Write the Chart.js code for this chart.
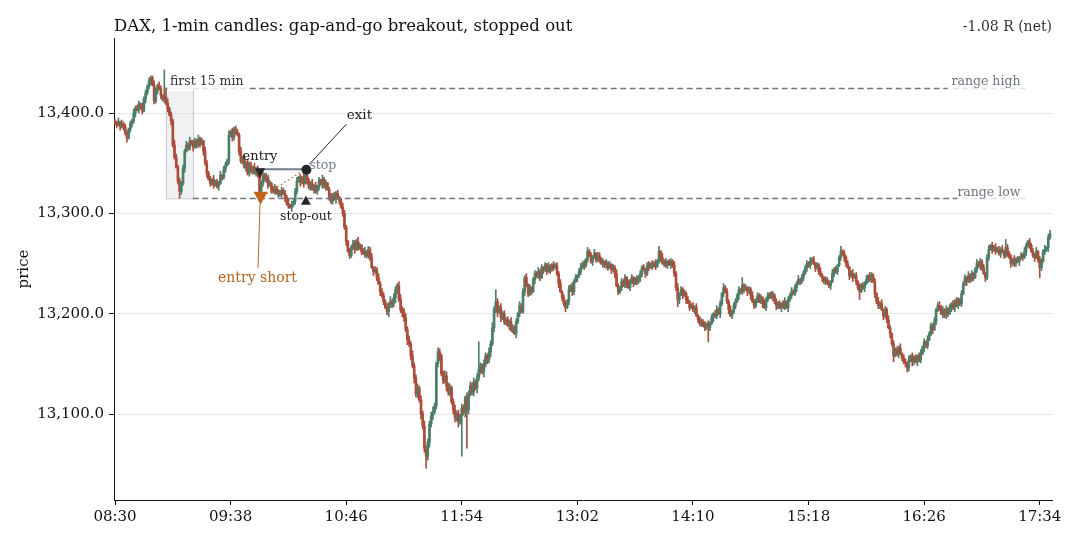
<!DOCTYPE html>
<html>
<head>
<meta charset="utf-8">
<script src="https://cdn.jsdelivr.net/npm/chart.js@4.4.1/dist/chart.umd.min.js"></script>
<style>
html,body{margin:0;padding:0;background:#fff;}
#wrap{width:1080px;height:540px;position:relative;}
</style>
</head>
<body>
<div id="wrap"><canvas id="c" width="1080" height="540"></canvas></div>
<script>
// ---------------- DATA ----------------
const firstOpen = 13391;
// 1-minute closes, 08:30 .. 17:40
const closes = [
13390,13388,13391,13387,13389,13386,13380,13375,13384,13389,
13392,13400,13405,13403,13409,13406,13402,13414,13420,13426,
13432,13435,13428,13412,13422,13427,13424,13418,13414,13416,
13410,13404,13398,13392,13368,13356,13346,13332,13322,13330,
13345,13362,13368,13366,13372,13370,13366,13372,13368,13374,
13369,13372,13362,13350,13340,13334,13330,13334,13328,13331,
13327,13330,13338,13336,13344,13348,13352,13378,13382,13376,
13384,13381,13378,13362,13352,13356,13346,13350,13340,13348,
13342,13346,13340,13344,13338,13322,13330,13338,13334,13336,
13328,13330,13324,13322,13325,13320,13322,13319,13323,13320,
13316,13310,13308,13306,13309,13312,13322,13332,13336,13331,
13335,13330,13338,13332,13326,13330,13324,13328,13322,13326,
13333,13329,13334,13327,13330,13324,13316,13312,13318,13314,
13320,13316,13312,13306,13300,13286,13272,13262,13258,13266,
13270,13264,13272,13266,13268,13262,13260,13262,13258,13264,
13256,13246,13242,13244,13236,13230,13222,13218,13212,13206,
13202,13208,13212,13210,13216,13224,13228,13214,13204,13202,
13196,13184,13174,13170,13158,13148,13136,13120,13126,13114,
13100,13088,13066,13058,13072,13090,13098,13102,13108,13150,
13162,13158,13140,13134,13138,13128,13122,13126,13112,13104,
13096,13100,13092,13098,13106,13102,13116,13104,13120,13128,
13122,13132,13126,13136,13144,13148,13142,13150,13158,13154,
13162,13170,13186,13204,13212,13202,13206,13196,13200,13192,
13194,13188,13192,13184,13186,13180,13192,13200,13208,13202,
13222,13236,13228,13220,13226,13222,13234,13240,13238,13242,
13236,13246,13244,13248,13242,13247,13244,13249,13246,13248,
13240,13230,13222,13216,13210,13206,13212,13224,13228,13222,
13232,13236,13238,13242,13246,13250,13248,13254,13262,13258,
13252,13256,13260,13254,13258,13254,13250,13252,13248,13250,
13246,13249,13244,13246,13240,13228,13222,13226,13232,13228,
13236,13230,13226,13232,13236,13230,13234,13232,13236,13240,
13246,13244,13240,13248,13246,13250,13248,13250,13247,13252,
13262,13256,13250,13252,13248,13252,13249,13252,13248,13240,
13226,13214,13220,13224,13218,13220,13214,13212,13206,13208,
13204,13206,13198,13194,13190,13192,13188,13186,13190,13186,
13190,13196,13200,13198,13204,13200,13210,13220,13226,13222,
13212,13204,13198,13202,13208,13212,13218,13224,13222,13228,
13224,13226,13222,13224,13218,13212,13208,13214,13218,13212,
13216,13210,13206,13214,13218,13220,13216,13218,13212,13208,
13210,13206,13210,13207,13212,13206,13214,13218,13222,13220,
13226,13230,13234,13232,13236,13240,13246,13250,13248,13252,
13254,13250,13246,13248,13242,13238,13236,13232,13234,13230,
13228,13232,13240,13244,13242,13248,13256,13262,13260,13256,
13250,13246,13238,13240,13236,13238,13232,13226,13222,13228,
13226,13230,13234,13238,13234,13238,13232,13220,13212,13208,
13210,13204,13198,13204,13194,13186,13180,13170,13158,13164,
13160,13166,13160,13156,13152,13150,13146,13154,13158,13152,
13156,13152,13158,13154,13160,13166,13172,13168,13174,13180,
13188,13184,13192,13204,13208,13206,13200,13204,13198,13204,
13200,13206,13210,13206,13212,13208,13214,13210,13220,13230,
13236,13232,13238,13234,13240,13236,13244,13250,13248,13252,
13246,13240,13236,13256,13264,13268,13264,13266,13262,13264,
13260,13264,13262,13258,13266,13260,13256,13250,13254,13250,
13254,13252,13256,13258,13256,13262,13268,13272,13268,13262,
13258,13256,13262,13254,13246,13252,13262,13264,13266,13276,
13280
];
// upper / lower wick lengths (points) per candle
const hiWick = "3241423213 2423314232 3214324303 0423253232 3242413324 2314323142 3241332413 2332413243 3142312324 2313422132 3241323413 2431324132 3142312423 2313432132 3324213413 2413242332 4352432453 3434253342 4352334532 4323543423 5342432534 3424232432 4353432423 2324323142 3242312324 2313242132 3241332413 2313423142 3241332314 2313242132 3142312423 2313413242 3142312324 2413242312 3241332413 2313423142 3241332314 2313242132 3142312423 2313413242 3241332324 2313242132 3142312423 2313423142 3241332314 2413242132 3241332413 2313423142 3241332314 2313242132 3142312423 2313413242 3241332314 2313242132 3241332413 3";
const loWick = "2314232413 3241323142 2413231424 2314221323 2413324132 3142413231 2413231324 3214231423 2313241323 3142314231 4231423314 2413231423 3142413231 4231324132 2413231423 3142314231 3524354235 4253425342 5342453423 3524353424 4352435342 3425342534 3524352423 3142314231 2413231423 3142314231 2413231324 3142314231 2413231423 3142413231 2413231324 3142314231 2413231423 3142314231 2413231324 3142314231 2413231423 3142413231 2413231324 3142314231 2413231423 3142314231 2413231324 3142413231 2413231423 3142314231 2413231324 3142314231 2413231423 3142413231 2413231324 3142314231 2413231423 3142314231 2413231324 2";
// notable wick extremes
const spikeHigh = {22:13437, 29:13443, 30:13425, 112:13344, 214:13172, 224:13224, 278:13266, 320:13267, 369:13236, 427:13267, 485:13212, 524:13274};
const spikeLow  = {38:13315, 85:13315, 183:13046, 204:13058, 207:13066, 265:13202, 331:13207, 349:13172, 438:13214, 458:13152, 466:13142, 544:13236};

const tickMinutes = [0, 68, 136, 204, 272, 340, 408, 476, 544];
const tickLabels  = ['08:30','09:38','10:46','11:54','13:02','14:10','15:18','16:26','17:34'];
const priceTicks  = [13100, 13200, 13300, 13400];

const rangeHigh = 13425, rangeLow = 13315;
const rangeStartMin = 30, rangeEndMin = 46, rangeLineEndMin = 535;
const entryMin = 85, entryFill = 13315, entrySignal = 13341;
const exitMin = 112, stopPrice = 13344, stopOutMark = 13313;
const titleText = 'DAX, 1-min candles: gap-and-go breakout, stopped out';
const netText = '-1.08 R (net)';

// ---------------- BUILD ----------------
const hw = hiWick.replace(/ /g, ''), lw = loWick.replace(/ /g, '');
const UP = '#4d7e69', DOWN = '#ab4d39';
const bodies = [], wicks = [], colors = [];
closes.forEach((c, i) => {
  const o = i === 0 ? firstOpen : closes[i - 1];
  let h = spikeHigh[i] !== undefined ? spikeHigh[i] : Math.max(o, c) + (+hw[i] || 0);
  let l = spikeLow[i] !== undefined ? spikeLow[i] : Math.min(o, c) - (+lw[i] || 0);
  // keep the opening-range candles inside the range
  if (i >= rangeStartMin && i < rangeEndMin) { h = Math.min(h, rangeHigh); l = Math.max(l, rangeLow); }
  else if (i > rangeEndMin && i < entryMin) { l = Math.max(l, rangeLow + 1); }
  bodies.push({x: i, y: [o, c]});
  wicks.push({x: i, y: [l, h]});
  colors.push(c >= o ? UP : DOWN);
});

const SERIF = '"DejaVu Serif", "Liberation Serif", serif';
Chart.defaults.font.family = SERIF;

function txt(ctx, s, x, y, size, color, align) {
  ctx.font = size + 'px ' + SERIF;
  ctx.fillStyle = color;
  ctx.textAlign = align || 'left';
  ctx.textBaseline = 'alphabetic';
  ctx.fillText(s, x, y);
}
function tri(ctx, x, y, w, h, down, color) {
  ctx.beginPath();
  if (down) { ctx.moveTo(x - w/2, y - h/2); ctx.lineTo(x + w/2, y - h/2); ctx.lineTo(x, y + h/2); }
  else { ctx.moveTo(x - w/2, y + h/2); ctx.lineTo(x + w/2, y + h/2); ctx.lineTo(x, y - h/2); }
  ctx.closePath(); ctx.fillStyle = color; ctx.fill();
}

const overlay = {
  id: 'overlay',
  beforeDatasetsDraw(chart) {
    const {ctx, scales: {x, y}} = chart;
    const x0 = x.getPixelForValue(rangeStartMin - 0.1), x1 = x.getPixelForValue(rangeEndMin - 0.1);
    const y0 = y.getPixelForValue(rangeHigh), y1 = y.getPixelForValue(rangeLow);
    ctx.save();
    ctx.fillStyle = 'rgba(220,224,228,0.45)';
    ctx.fillRect(x0, y0, x1 - x0, y1 - y0);
    ctx.strokeStyle = '#c3c7cc'; ctx.lineWidth = 1;
    ctx.strokeRect(x0 + 0.5, y0 + 0.5, x1 - x0, y1 - y0);
    ctx.restore();
  },
  afterDatasetsDraw(chart) {
    const {ctx, scales: {x, y}} = chart;
    ctx.save();
    // range lines
    const lx0 = x.getPixelForValue(rangeEndMin - 0.3), lx1 = x.getPixelForValue(rangeLineEndMin);
    ctx.setLineDash([6, 3.5]); ctx.lineWidth = 1.5; ctx.strokeStyle = '#6e7580';
    [rangeHigh, rangeLow].forEach(v => {
      const py = Math.round(y.getPixelForValue(v)) + 0.5;
      ctx.beginPath(); ctx.moveTo(lx0, py); ctx.lineTo(lx1, py); ctx.stroke();
    });
    ctx.setLineDash([]);
    // label backgrounds (semi-transparent)
    const yHi = y.getPixelForValue(rangeHigh), yLo = y.getPixelForValue(rangeLow);
    ctx.fillStyle = 'rgba(255,255,255,0.8)';
    const xBoxL = x.getPixelForValue(rangeStartMin);
    ctx.fillRect(xBoxL + 2, yHi - 14, 80, 17);
    ctx.fillRect(lx1 - 77, yHi - 14, 77, 17);
    ctx.fillRect(lx1 - 67, yLo - 14, 67, 17);
    txt(ctx, 'first 15 min', xBoxL + 4, yHi - 2.5, 12.5, '#333');
    txt(ctx, 'range high', lx1 - 4, yHi - 2.5, 12.5, '#6e7580', 'right');
    txt(ctx, 'range low', lx1 - 4, yLo - 2, 12.5, '#6e7580', 'right');

    // trade
    const ex = x.getPixelForValue(entryMin), xx = x.getPixelForValue(exitMin);
    const eyFill = y.getPixelForValue(entryFill), eySig = y.getPixelForValue(entrySignal);
    const sy = y.getPixelForValue(stopPrice), soy = y.getPixelForValue(stopOutMark);
    // stop line
    ctx.strokeStyle = '#737b86'; ctx.lineWidth = 2;
    ctx.beginPath(); ctx.moveTo(ex, sy); ctx.lineTo(xx, sy); ctx.stroke();
    // dotted entry->exit
    ctx.strokeStyle = '#c0621c'; ctx.lineWidth = 1.3; ctx.setLineDash([1.6, 2.6]);
    ctx.beginPath(); ctx.moveTo(ex, eyFill); ctx.lineTo(xx, sy); ctx.stroke();
    ctx.setLineDash([]);
    // orange leader to "entry short"
    ctx.strokeStyle = '#b8651f'; ctx.lineWidth = 1;
    ctx.beginPath(); ctx.moveTo(ex + 0.5, eyFill + 6); ctx.lineTo(ex - 1.5, eyFill + 70); ctx.stroke();
    // exit leader
    ctx.strokeStyle = '#222'; ctx.lineWidth = 1;
    ctx.beginPath(); ctx.moveTo(xx + 4, sy - 5); ctx.lineTo(xx + 41, sy - 45); ctx.stroke();
    // markers
    tri(ctx, ex + 0.5, eySig + 1, 10, 10, true, '#262626');
    tri(ctx, ex + 1, eyFill, 14, 13, true, '#bf6418');
    tri(ctx, xx + 0.5, soy, 10, 9, false, '#262626');
    ctx.beginPath(); ctx.arc(xx + 1, sy + 0.5, 5, 0, Math.PI * 2); ctx.fillStyle = '#262626'; ctx.fill();
    // labels
    txt(ctx, 'entry', ex + 0.5, sy - 9, 13, '#222', 'center');
    txt(ctx, 'stop', xx + 4, sy, 12.5, '#737b86');
    txt(ctx, 'exit', xx + 54, sy - 50, 13.5, '#222', 'center');
    txt(ctx, 'stop-out', xx + 0.5, soy + 20, 12.5, '#222', 'center');
    txt(ctx, 'entry short', ex - 2, eyFill + 84, 14, '#b5651d', 'center');
    ctx.restore();
  },
  afterDraw(chart) {
    const {ctx, chartArea} = chart;
    ctx.save();
    txt(ctx, titleText, chartArea.left, 31, 16.5, '#111');
    txt(ctx, netText, chartArea.right, 31, 14, '#333', 'right');
    ctx.translate(28, 269);
    ctx.rotate(-Math.PI / 2);
    txt(ctx, 'price', 0, 0, 15, '#111', 'center');
    ctx.restore();
  }
};

new Chart(document.getElementById('c'), {
  type: 'bar',
  data: {
    datasets: [
      {data: wicks, backgroundColor: colors, barThickness: 1.0, grouped: false, order: 2},
      {data: bodies, backgroundColor: colors, barThickness: 2.0, minBarLength: 1, grouped: false, order: 1}
    ]
  },
  options: {
    responsive: false,
    animation: false,
    devicePixelRatio: 1,
    events: [],
    layout: {padding: {top: 38, right: 28, left: 0, bottom: 0}},
    plugins: {legend: {display: false}, tooltip: {enabled: false}, title: {display: false}},
    scales: {
      x: {
        type: 'linear', min: -0.6, max: 551.2, offset: false,
        afterFit: s => { s.height = 40; },
        afterBuildTicks: s => { s.ticks = tickMinutes.map(v => ({value: v})); },
        ticks: {
          callback: (v, i) => tickLabels[i],
          autoSkip: false, maxRotation: 0, color: '#111', font: {size: 15}, padding: 3
        },
        grid: {offset: false, drawOnChartArea: false, tickColor: '#111', tickLength: 5},
        border: {color: '#111', width: 1}
      },
      y: {
        min: 13014.3, max: 13474.75,
        afterFit: s => { s.width = 114; },
        afterBuildTicks: s => { s.ticks = priceTicks.map(v => ({value: v})); },
        ticks: {
          callback: v => v.toLocaleString('en-US', {minimumFractionDigits: 1, maximumFractionDigits: 1}),
          color: '#111', font: {size: 15}, padding: 5
        },
        grid: {offset: false, color: '#e6e6e6', tickColor: '#111', tickLength: 5, lineWidth: 1},
        border: {color: '#111', width: 1}
      }
    }
  },
  plugins: [overlay]
});
</script>
</body>
</html>
